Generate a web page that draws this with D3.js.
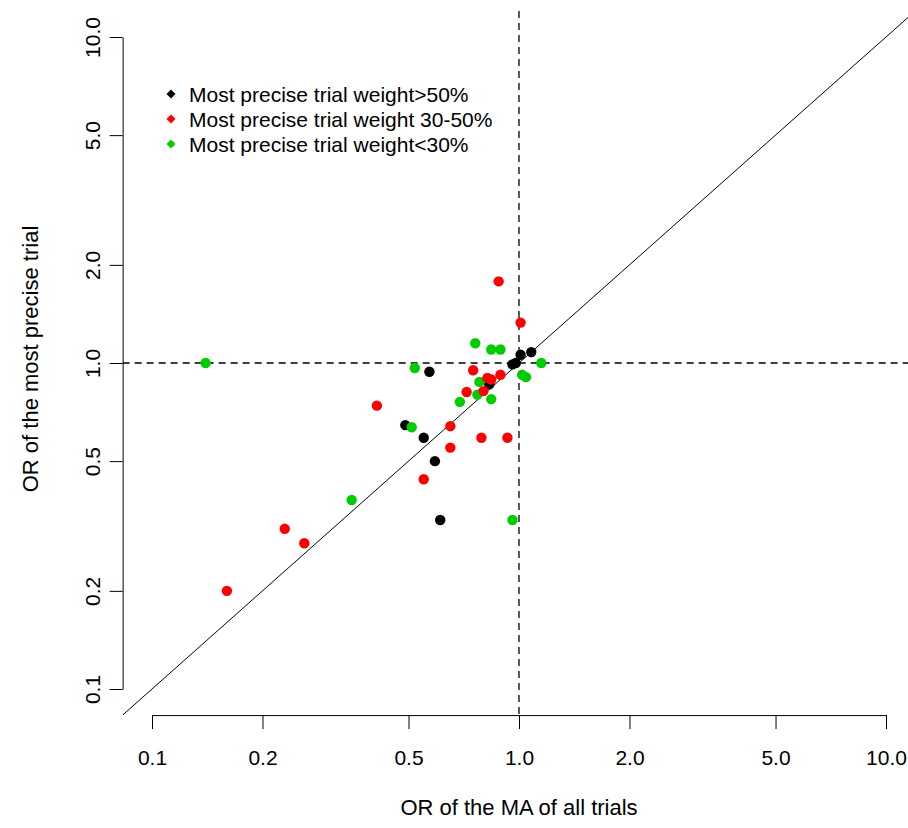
<!DOCTYPE html>
<html lang="en">
<head>
<meta charset="utf-8">
<script src="https://d3js.org/d3.v7.min.js"></script>
<style>
    body { margin: 0; background: #fff; }
    svg { font-family: "Liberation Sans", Arial, sans-serif; }
</style>
</head>
<body>
<div id="chart"></div>
<script>
// tick values for both log axes
var ticks = [0.1, 0.2, 0.5, 1, 2, 5, 10];
var tickLabels = ["0.1", "0.2", "0.5", "1.0", "2.0", "5.0", "10.0"];

// OR of MA of all trials (x) vs OR of most precise trial (y), per weight group
var blackX = [0.49, 0.55, 0.59, 0.61, 0.57, 0.83, 0.96, 0.98, 1.01, 1.08];
var blackY = [0.645, 0.59, 0.50, 0.33, 0.94, 0.86, 0.99, 1.0, 1.06, 1.08];

var greenX = [0.14, 0.52, 0.51, 0.35, 0.76, 0.84, 0.89, 1.15, 1.02, 1.045, 0.78, 0.77, 0.69, 0.84, 0.96];
var greenY = [1.0, 0.965, 0.635, 0.38, 1.15, 1.10, 1.10, 1.0, 0.92, 0.905, 0.875, 0.80, 0.76, 0.775, 0.33];

var redX = [0.88, 1.01, 0.75, 0.89, 0.82, 0.84, 0.72, 0.80, 0.41, 0.65, 0.79, 0.93, 0.65, 0.55, 0.23, 0.26, 0.16];
var redY = [1.78, 1.33, 0.95, 0.92, 0.90, 0.89, 0.815, 0.82, 0.74, 0.64, 0.59, 0.59, 0.55, 0.44, 0.31, 0.28, 0.20];

var legendLabels = ["Most precise trial weight>50%", "Most precise trial weight 30-50%", "Most precise trial weight<30%"];
var legendColors = ["#000000", "#FF0000", "#00CD00"];

var W = 908, H = 828;

var svg = d3.select("#chart").append("svg")
    .attr("width", W)
    .attr("height", H);

svg.append("rect").attr("width", W).attr("height", H).attr("fill", "#fff");

// log scales, range spans the tick extent (R style axes)
var x = d3.scaleLog().domain([0.1, 10]).range([152, 886]);
var y = d3.scaleLog().domain([0.1, 10]).range([689, 37]);

// plot region = data range + 4% each side
var pad = 0.04 * 2;
var px0 = x(Math.pow(10, -1 - pad)), px1 = x(Math.pow(10, 1 + pad));
var py0 = y(Math.pow(10, 1 + pad)), py1 = y(Math.pow(10, -1 - pad));

svg.append("clipPath").attr("id", "plotclip")
  .append("rect")
    .attr("x", px0).attr("y", py0)
    .attr("width", px1 - px0).attr("height", py1 - py0);

var plot = svg.append("g").attr("clip-path", "url(#plotclip)");

// identity line
plot.append("line")
    .attr("x1", x(0.05)).attr("y1", y(0.05))
    .attr("x2", x(20)).attr("y2", y(20))
    .attr("stroke", "#000").attr("stroke-width", 1);

// reference lines at OR = 1
plot.append("line")
    .attr("x1", x(1)).attr("x2", x(1))
    .attr("y1", py0).attr("y2", py1)
    .attr("stroke", "#000").attr("stroke-width", 1.3)
    .attr("stroke-dasharray", "7,5");
plot.append("line")
    .attr("x1", px0).attr("x2", px1)
    .attr("y1", y(1)).attr("y2", y(1))
    .attr("stroke", "#000").attr("stroke-width", 1.3)
    .attr("stroke-dasharray", "7,5");

// points
function drawPoints(xs, ys, col) {
    plot.append("g").selectAll("circle")
      .data(xs.map(function(v, i) { return [v, ys[i]]; }))
      .enter().append("circle")
        .attr("cx", function(d) { return x(d[0]); })
        .attr("cy", function(d) { return y(d[1]); })
        .attr("r", 5.2)
        .attr("fill", col);
}
drawPoints(blackX, blackY, legendColors[0]);
drawPoints(greenX, greenY, legendColors[2]);
drawPoints(redX, redY, legendColors[1]);

// x axis
var xAxis = svg.append("g")
    .attr("transform", "translate(0," + py1 + ")")
    .call(d3.axisBottom(x).tickValues(ticks)
        .tickFormat(function(d, i) { return tickLabels[i]; })
        .tickSize(14).tickSizeOuter(0));
xAxis.selectAll("text")
    .attr("y", 50).attr("dy", 0)
    .attr("fill", "#000")
    .style("font-size", "21px")
    .style("font-family", '"Liberation Sans", Arial, sans-serif');

// y axis
var yAxis = svg.append("g")
    .attr("transform", "translate(" + px0 + ",0)")
    .call(d3.axisLeft(y).tickValues(ticks)
        .tickFormat(function(d, i) { return tickLabels[i]; })
        .tickSize(13).tickSizeOuter(0));
yAxis.selectAll("text")
    .attr("x", 0).attr("dy", 0)
    .attr("text-anchor", "middle")
    .attr("transform", "translate(-23,0) rotate(-90)")
    .attr("fill", "#000")
    .style("font-size", "21px")
    .style("font-family", '"Liberation Sans", Arial, sans-serif');

svg.selectAll(".domain, .tick line").attr("stroke", "#000");

// axis titles
svg.append("text")
    .attr("x", x(1)).attr("y", 815)
    .attr("text-anchor", "middle")
    .style("font-size", "22px")
    .text("OR of the MA of all trials");

svg.append("text")
    .attr("transform", "translate(38,359) rotate(-90)")
    .attr("text-anchor", "middle")
    .style("font-size", "22px")
    .text("OR of the most precise trial");

// legend
var legend = svg.append("g");
var rowY = [94, 119, 144];
legendLabels.forEach(function(lab, i) {
    legend.append("path")
        .attr("d", "M0,-4.5L4.5,0L0,4.5L-4.5,0Z")
        .attr("transform", "translate(171," + rowY[i] + ")")
        .attr("fill", legendColors[i]);
    legend.append("text")
        .attr("x", 189).attr("y", rowY[i] + 8)
        .style("font-size", "21px")
        .text(lab);
});
</script>
</body>
</html>
